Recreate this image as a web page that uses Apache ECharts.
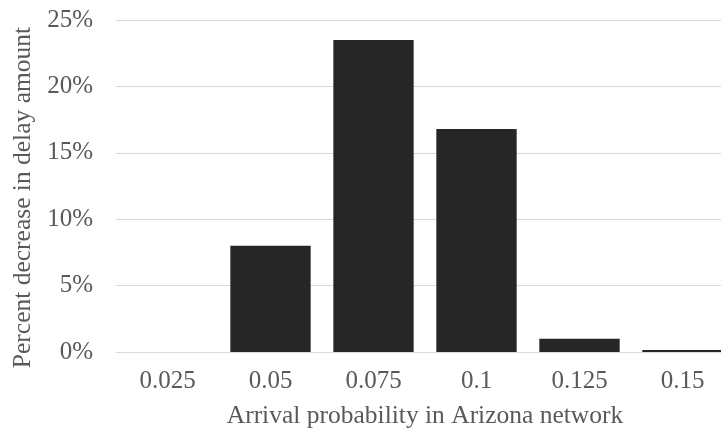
<!DOCTYPE html>
<html><head><meta charset="utf-8">
<script src="https://cdn.jsdelivr.net/npm/echarts@6/dist/echarts.min.js"></script>
<style>html,body{margin:0;padding:0;background:#fff}#c{width:721px;height:429px}</style>
</head><body><div id="c"></div>
<script>
const categories = ['0.025', '0.05', '0.075', '0.1', '0.125', '0.15'];
const values = [0, 8, 23.5, 16.8, 1, 0.15];
const yTicks = [0, 5, 10, 15, 20, 25];
const xTitle = 'Arrival probability in Arizona network';
const yTitle = 'Percent decrease in delay amount';

const chart = echarts.init(document.getElementById('c'), null, {renderer: 'canvas'});
const font = 'Liberation Serif';
chart.setOption({
  animation: false,
  grid: {left: 116, top: 20, right: -13, bottom: 77, containLabel: false, outerBoundsMode: 'none'},
  xAxis: {
    type: 'category', data: categories,
    axisLine: {lineStyle: {color: '#d9d9d9', width: 1}},
    axisTick: {show: false},
    axisLabel: {color: '#595959', fontFamily: font, fontSize: 25, margin: 17},
    name: xTitle, nameLocation: 'middle', nameGap: 51,
    nameTextStyle: {color: '#595959', fontFamily: font, fontSize: 25.5}
  },
  yAxis: {
    type: 'value', min: yTicks[0], max: yTicks[yTicks.length - 1], interval: 5,
    axisLine: {show: false}, axisTick: {show: false},
    splitLine: {lineStyle: {color: '#d9d9d9', width: 1}},
    axisLabel: {color: '#595959', fontFamily: font, fontSize: 25, margin: 23, formatter: '{value}%'},
    name: yTitle, nameLocation: 'middle', nameGap: 77,
    nameTextStyle: {color: '#595959', fontFamily: font, fontSize: 25.5, padding: [0, 23, 0, 0]}
  },
  series: [{
    type: 'bar', data: values, barCategoryGap: '22%',
    itemStyle: {color: '#262626'}
  }]
});
</script></body></html>
